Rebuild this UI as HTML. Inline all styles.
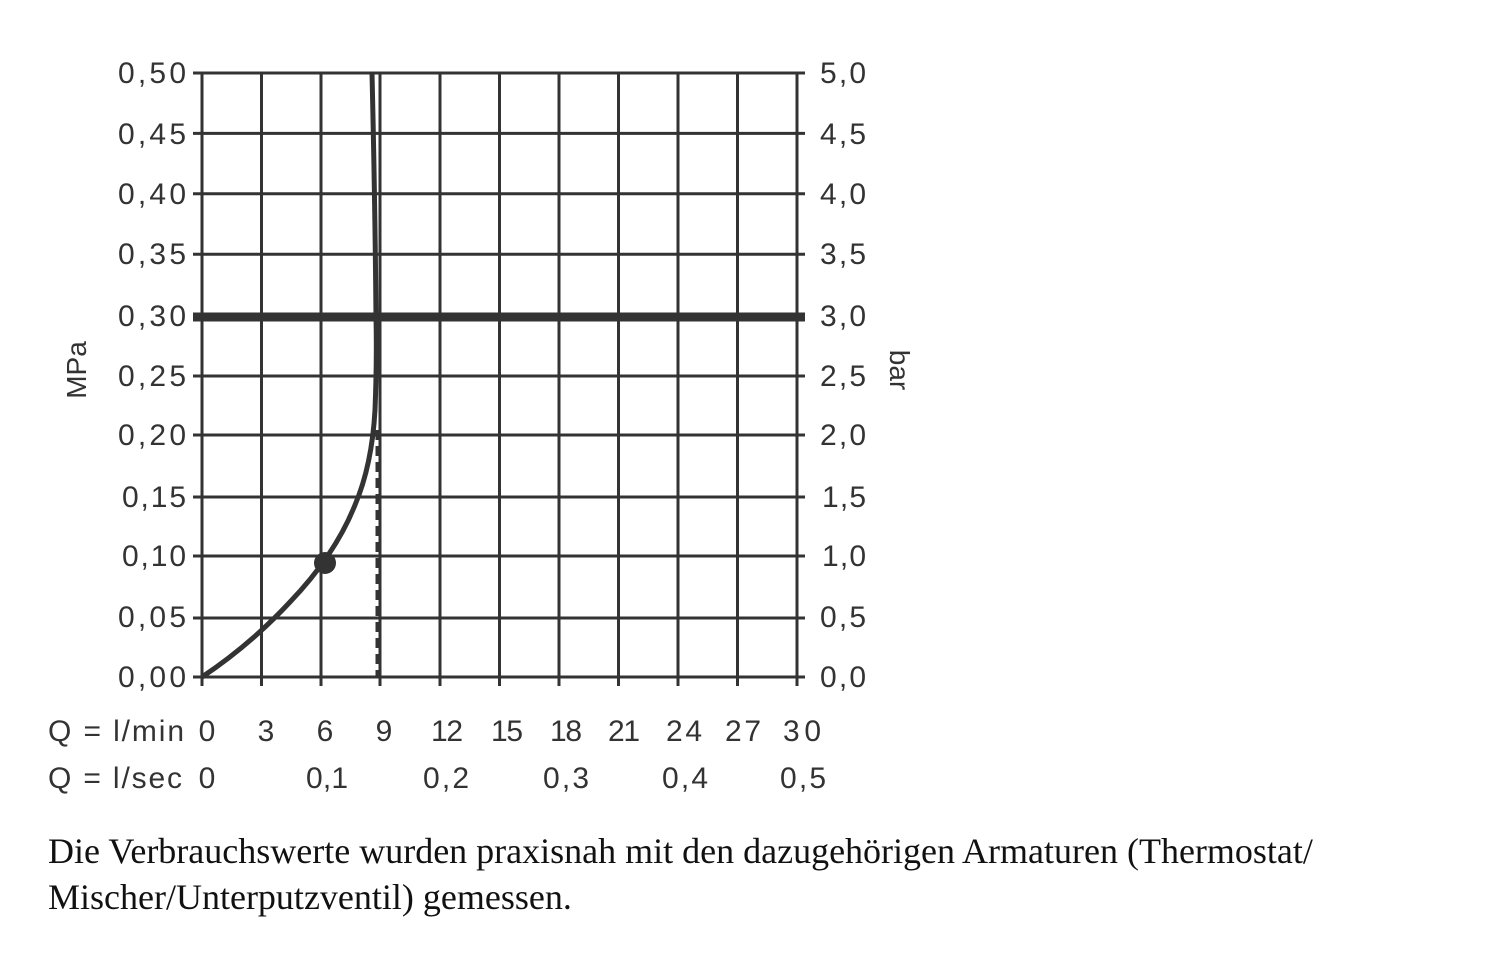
<!DOCTYPE html>
<html><head><style>
body{margin:0;background:#fff;width:1500px;height:956px;overflow:hidden}
.cap{position:absolute;left:48px;font-family:"Liberation Serif",serif;font-size:36px;color:#111;white-space:nowrap}
</style></head><body>
<svg width="1500" height="956" style="position:absolute;left:0;top:0" font-family="Liberation Sans, sans-serif" fill="#333">
<g stroke="#333" stroke-width="3">
<line x1="202" y1="73" x2="202" y2="686"/><line x1="261.5" y1="73" x2="261.5" y2="686"/><line x1="321" y1="73" x2="321" y2="686"/><line x1="380" y1="73" x2="380" y2="686"/><line x1="440" y1="73" x2="440" y2="686"/><line x1="499.5" y1="73" x2="499.5" y2="686"/><line x1="559" y1="73" x2="559" y2="686"/><line x1="618.5" y1="73" x2="618.5" y2="686"/><line x1="678" y1="73" x2="678" y2="686"/><line x1="737.5" y1="73" x2="737.5" y2="686"/><line x1="797" y1="73" x2="797" y2="686"/>
<line x1="193" y1="73" x2="805" y2="73"/><line x1="193" y1="133.4" x2="805" y2="133.4"/><line x1="193" y1="193.8" x2="805" y2="193.8"/><line x1="193" y1="254.2" x2="805" y2="254.2"/><line x1="193" y1="376" x2="805" y2="376"/><line x1="193" y1="435" x2="805" y2="435"/><line x1="193" y1="497" x2="805" y2="497"/><line x1="193" y1="556" x2="805" y2="556"/><line x1="193" y1="618" x2="805" y2="618"/><line x1="193" y1="677" x2="805" y2="677"/>
</g>
<line x1="193" y1="317" x2="805" y2="317" stroke="#333" stroke-width="9"/>
<line x1="377" y1="430" x2="377" y2="677" stroke="#333" stroke-width="3" stroke-dasharray="10,6"/>
<path d="M202,677 Q250,645 290,602 Q335,555 355,505 Q372,465 375,410 Q377,360 376,317 Q375,200 372,73" fill="none" stroke="#333" stroke-width="5"/>
<circle cx="325" cy="563" r="11" fill="#333"/>
<g font-size="30" text-anchor="end">
<text x="186" y="83" textLength="68">0,50</text><text x="186" y="144" textLength="68">0,45</text><text x="186" y="204" textLength="68">0,40</text><text x="186" y="264" textLength="68">0,35</text><text x="186" y="326" textLength="68">0,30</text><text x="186" y="386" textLength="68">0,25</text><text x="186" y="445" textLength="68">0,20</text><text x="186" y="507" textLength="64">0,15</text><text x="186" y="566" textLength="64">0,10</text><text x="186" y="627" textLength="68">0,05</text><text x="186" y="687" textLength="68">0,00</text>
</g>
<g font-size="30">
<text x="820" y="83" textLength="46">5,0</text><text x="820" y="144" textLength="46">4,5</text><text x="820" y="204" textLength="46">4,0</text><text x="820" y="264" textLength="46">3,5</text><text x="820" y="326" textLength="46">3,0</text><text x="820" y="386" textLength="46">2,5</text><text x="820" y="445" textLength="46">2,0</text><text x="822" y="507" textLength="44">1,5</text><text x="822" y="566" textLength="44">1,0</text><text x="820" y="627" textLength="46">0,5</text><text x="820" y="687" textLength="46">0,0</text>
</g>
<text font-size="28" transform="translate(86,370) rotate(-90)" text-anchor="middle">MPa</text>
<text font-size="28" transform="translate(890,370) rotate(90)" text-anchor="middle">bar</text>
<g font-size="30" text-anchor="middle">
<text x="207" y="741">0</text><text x="266" y="741">3</text><text x="325" y="741">6</text><text x="384" y="741">9</text><text x="447" y="741" textLength="32">12</text><text x="507" y="741" textLength="32">15</text><text x="566" y="741" textLength="32">18</text><text x="624" y="741" textLength="32">21</text><text x="684" y="741" textLength="36">24</text><text x="743" y="741" textLength="36">27</text><text x="802" y="741" textLength="38">30</text>
<text x="207" y="788">0</text><text x="327" y="788" textLength="42">0,1</text><text x="446" y="788" textLength="46">0,2</text><text x="566" y="788" textLength="46">0,3</text><text x="685" y="788" textLength="46">0,4</text><text x="803" y="788" textLength="46">0,5</text>
</g>
<text font-size="30" x="48" y="741" textLength="136">Q = l/min</text>
<text font-size="30" x="48" y="788" textLength="134">Q = l/sec</text>
</svg>
<div class="cap" style="top:830px">Die Verbrauchswerte wurden praxisnah mit den dazugehörigen Armaturen (Thermostat/</div>
<div class="cap" style="top:876px">Mischer/Unterputzventil) gemessen.</div>
</body></html>
